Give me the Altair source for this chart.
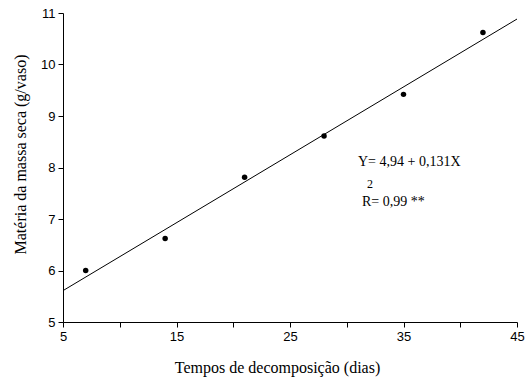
import altair as alt
import pandas as pd

# Data
dias = [7, 14, 21, 28, 35, 42]
massa = [6.0, 6.62, 7.81, 8.61, 9.42, 10.62]

x_ticks = [5, 10, 15, 20, 25, 30, 35, 40, 45]
y_ticks = [5, 6, 7, 8, 9, 10, 11]

eq_text = ["Y= 4,94 + 0,131X"]
r2_sup = ["2"]
r2_text = ["R= 0,99 **"]

df = pd.DataFrame({"x": dias, "y": massa})

W, H = 454, 309

x_enc = alt.X(
    "x:Q",
    scale=alt.Scale(domain=[5, 45], nice=False, zero=False),
    axis=alt.Axis(
        values=x_ticks,
        labelExpr="datum.value % 10 == 5 ? datum.label : ''",
        title="Tempos de decomposição (dias)",
        titleFont="Liberation Serif",
        titleFontSize=16,
        titleFontWeight="normal",
        titleColor="black",
        titleX=214,
        titlePadding=16,
        labelFont="Liberation Sans",
        labelFontSize=13,
        labelColor="black",
        labelPadding=3,
        tickSize=5,
        tickColor="black",
        domainColor="black",
        grid=False,
        labelFlush=False,
        labelOverlap=False,
    ),
)
y_enc = alt.Y(
    "y:Q",
    scale=alt.Scale(domain=[5, 11], nice=False, zero=False),
    axis=alt.Axis(
        values=y_ticks,
        title="Matéria da massa seca (g/vaso)",
        titleFont="Liberation Serif",
        titleFontSize=16,
        titleFontWeight="normal",
        titleColor="black",
        titleX=-35,
        titleY=141,
        labelFont="Liberation Sans",
        labelFontSize=13,
        labelColor="black",
        labelPadding=3,
        tickSize=5,
        tickColor="black",
        domainColor="black",
        grid=False,
        labelFlush=False,
    ),
)

base = alt.Chart(df)

points = base.mark_circle(size=30, color="black", opacity=1).encode(x=x_enc, y=y_enc)

line = (
    base.transform_regression("x", "y", extent=[5, 45])
    .mark_line(color="black", strokeWidth=1)
    .encode(x="x:Q", y="y:Q")
)

eq = alt.Chart(pd.DataFrame({"t": eq_text})).mark_text(
    font="Liberation Serif", fontSize=14, align="left", baseline="middle", color="black"
).encode(text="t:N", x=alt.value(295), y=alt.value(149))

sup = alt.Chart(pd.DataFrame({"t": r2_sup})).mark_text(
    font="Liberation Serif", fontSize=12, align="left", baseline="middle", color="black"
).encode(text="t:N", x=alt.value(304), y=alt.value(171))

r2 = alt.Chart(pd.DataFrame({"t": r2_text})).mark_text(
    font="Liberation Serif", fontSize=14, align="left", baseline="middle", color="black"
).encode(text="t:N", x=alt.value(299), y=alt.value(189))

chart = (
    alt.layer(line, points, eq, sup, r2)
    .properties(
        width=W,
        height=H,
        autosize=alt.AutoSizeParams(type="none"),
        padding={"left": 63, "top": 13, "right": 8, "bottom": 59},
        background="white",
    )
    .configure_view(stroke=None)
)

chart.save("out.html", embed_options={"renderer": "svg", "actions": False})
